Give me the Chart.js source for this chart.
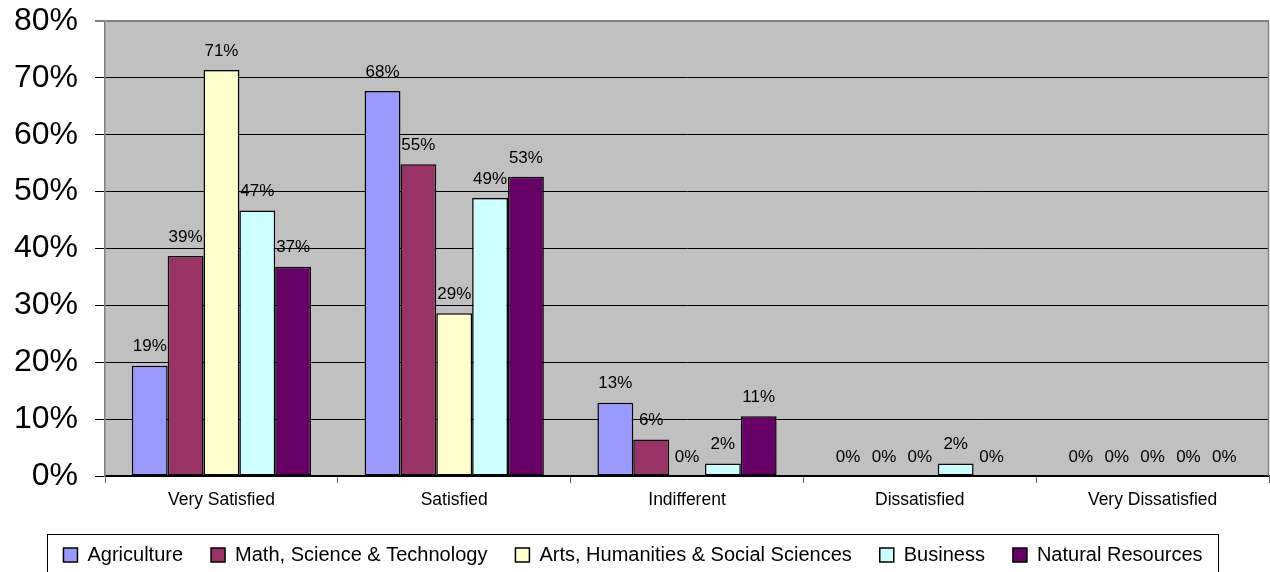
<html>
<head>
<style>
  html, body { margin: 0; padding: 0; background: #fff; overflow: hidden; }
  #wrap { width: 1270px; height: 572px; }
</style>
</head>
<body>
<div id="wrap"><canvas id="myChart" width="1270" height="572"></canvas></div>
<script src="https://cdn.jsdelivr.net/npm/chart.js@4.4.1/dist/chart.umd.min.js"></script>
<script>
    const categories = ["Very Satisfied", "Satisfied", "Indifferent", "Dissatisfied", "Very Dissatisfied"];
    const seriesNames = ["Agriculture", "Math, Science & Technology", "Arts, Humanities & Social Sciences", "Business", "Natural Resources"];
    const agriculture = [19.4, 67.7, 12.9, 0, 0];
    const mathSciTech = [38.7, 54.8, 6.4, 0, 0];
    const artsHumanities = [71.4, 28.6, 0, 0, 0];
    const business = [46.7, 48.9, 2.2, 2.2, 0];
    const naturalResources = [36.8, 52.6, 10.5, 0, 0];
    const yTicks = [0, 10, 20, 30, 40, 50, 60, 70, 80];
    const barColors = ["#9999FF", "#993366", "#FFFFCC", "#CCFFFF", "#660066"];

    const seriesValues = [agriculture, mathSciTech, artsHumanities, business, naturalResources];
    const FONT = "'Liberation Sans', Arial, sans-serif";

    // grey plot area, right border, value labels, legend frame
    const decorations = {
        id: "decorations",
        beforeDraw(chart) {
            const a = chart.chartArea, c = chart.ctx;
            c.save();
            c.fillStyle = "#C0C0C0";
            c.fillRect(a.left, a.top, a.right - a.left, a.bottom - a.top);
            c.restore();
        },
        afterDraw(chart) {
            const a = chart.chartArea, c = chart.ctx;
            c.save();
            c.strokeStyle = "#808080";
            c.lineWidth = 1.5;
            c.beginPath();
            c.moveTo(a.right - 0.5, a.top);
            c.lineTo(a.right - 0.5, a.bottom);
            c.stroke();

            const boxes = chart.legend.legendHitBoxes;
            if (boxes && boxes.length) {
                const first = boxes[0], last = boxes[boxes.length - 1];
                const x0 = Math.round(first.left - 16) + 0.5;
                const x1 = Math.round(last.left + last.width + 15) + 0.5;
                c.strokeStyle = "#000";
                c.lineWidth = 1;
                c.strokeRect(x0, Math.round(first.top - 11) + 0.5, x1 - x0, 60);
            }
            c.restore();
        },
        afterDatasetsDraw(chart) {
            const c = chart.ctx;
            c.save();
            c.font = "17px " + FONT;
            c.fillStyle = "#000";
            c.textAlign = "center";
            c.textBaseline = "middle";
            chart.data.datasets.forEach((ds, i) => {
                chart.getDatasetMeta(i).data.forEach((bar, j) => {
                    c.fillText(Math.round(ds.data[j]) + "%", bar.x, bar.y - 19);
                });
            });
            c.restore();
        }
    };

    let myChart = new Chart("myChart", {
        type: "bar",
        data: {
            labels: categories,
            datasets: seriesNames.map((name, i) => ({
                label: name,
                data: seriesValues[i],
                backgroundColor: barColors[i],
                borderColor: "#000",
                borderWidth: 1.5,
                borderSkipped: false,
                categoryPercentage: 0.77,
                barPercentage: 1.0
            }))
        },
        options: {
            responsive: false,
            animation: false,
            devicePixelRatio: 1,
            layout: { padding: { left: -3, right: 1, top: 0, bottom: -3 } },
            plugins: {
                tooltip: { enabled: false },
                legend: {
                    position: "bottom",
                    labels: {
                        font: { family: FONT, size: 20 },
                        color: "#000",
                        boxWidth: 14,
                        boxHeight: 14,
                        padding: 28
                    }
                }
            },
            scales: {
                x: {
                    grid: { drawOnChartArea: false, drawTicks: true, tickLength: 7, color: "#606060", lineWidth: 1 },
                    border: { color: "#000", width: 1.5 },
                    ticks: { font: { family: FONT, size: 17.5 }, color: "#000", padding: 6.5, maxRotation: 0 }
                },
                y: {
                    min: 0,
                    max: 80,
                    afterBuildTicks(axis) { axis.ticks = yTicks.map(v => ({ value: v })); },
                    afterFit(axis) { axis.paddingTop = 21; },
                    grid: {
                        color: ctx => (ctx.tick && ctx.tick.value === 80) ? "#808080" : "#000",
                        lineWidth: ctx => (ctx.tick && ctx.tick.value === 80) ? 2 : 1,
                        tickLength: 10,
                        drawTicks: true
                    },
                    border: { color: "#808080", width: 1.5 },
                    ticks: {
                        font: { family: FONT, size: 32 },
                        color: "#000",
                        padding: 17,
                        callback: v => v + "%"
                    }
                }
            }
        },
        plugins: [decorations]
    });
</script>
</body>
</html>
